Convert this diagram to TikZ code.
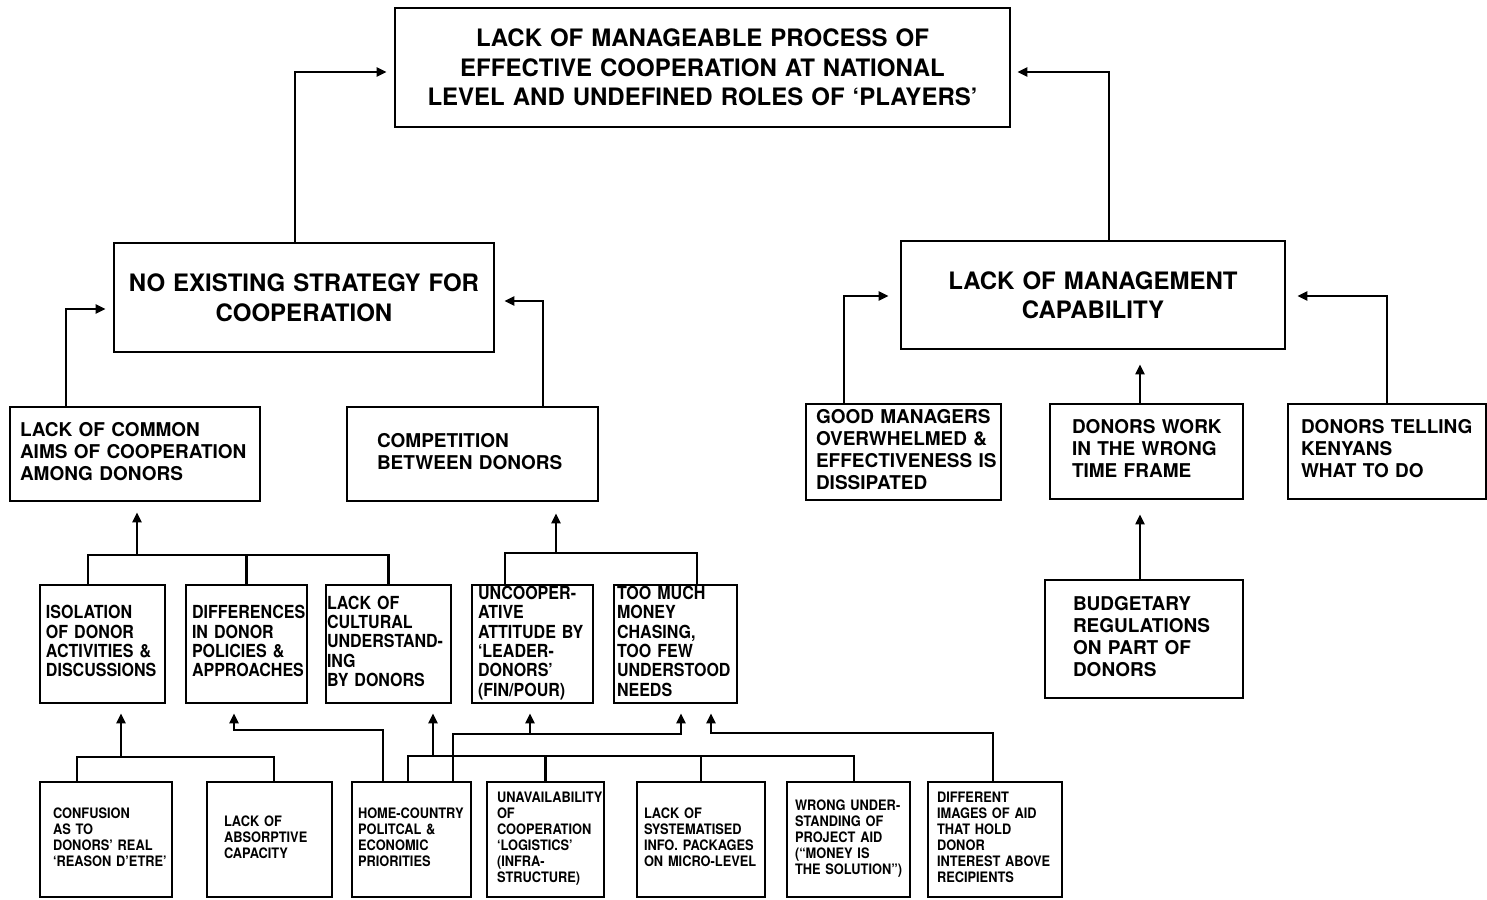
\documentclass[tikz,border=0pt]{standalone}
\usepackage{fontspec}
\setmainfont{TeX Gyre Heros}
\newfontfamily\cnd[FakeStretch=0.89,Ligatures=TeX]{TeX Gyre Heros}
\usetikzlibrary{arrows.meta}
\newcommand{\lns}[1]{\noindent\begin{tabular}{@{}l@{}}#1\end{tabular}}

\tikzset{
  box/.style={draw, rectangle, line width=1.4pt, inner ysep=0pt},
  headbox/.style={box, align=center, inner xsep=5pt, font=\bfseries\fontsize{12}{14.75}\selectfont},
  causebox/.style={box, font=\bfseries\fontsize{9.5}{11}\selectfont},
  subbox/.style={box, font=\cnd\bfseries\fontsize{9}{9.7}\selectfont},
  rootbox/.style={box, font=\cnd\bfseries\fontsize{7.2}{8}\selectfont},
  link/.style={line width=1.1pt},
  arr/.style={link, -{Triangle[length=5pt,width=4.5pt]}},
}

\begin{document}
\begin{tikzpicture}[x=0.5pt,y=-0.5pt]
    \useasboundingbox (0,0) rectangle (1487,899);

    % top problem
    \node[headbox, minimum width=307.5pt, minimum height=59.5pt, text width=297.5pt] (top) at (702.5,67.5)
        {LACK OF MANAGEABLE PROCESS OF\\EFFECTIVE COOPERATION AT NATIONAL\\LEVEL AND UNDEFINED ROLES OF `PLAYERS'};

    % second level
    \node[headbox, minimum width=190pt, minimum height=54.5pt, text width=180pt] (strat) at (304,297.5)
        {NO EXISTING STRATEGY FOR\\COOPERATION};
    \node[headbox, minimum width=192pt, minimum height=54pt, text width=182pt] (mgmt) at (1093,295)
        {LACK OF MANAGEMENT\\CAPABILITY};

    % third level
    \node[causebox, minimum width=125pt, minimum height=47pt, inner xsep=5pt, text width=115pt] (aims) at (135,454)
        {\lns{LACK OF COMMON\\AIMS OF COOPERATION\\AMONG DONORS}};
    \node[causebox, minimum width=125.5pt, minimum height=47pt, inner xsep=15pt, text width=95.5pt] (comp) at (472.5,454)
        {\lns{COMPETITION\\BETWEEN DONORS}};
    \node[causebox, minimum width=97.5pt, minimum height=48pt, inner xsep=5pt, text width=87.5pt] (goodm) at (903.5,452)
        {\lns{GOOD MANAGERS\\OVERWHELMED \&\\EFFECTIVENESS IS\\DISSIPATED}};
    \node[causebox, minimum width=96.5pt, minimum height=47.5pt, inner xsep=11pt, text width=74.5pt] (timefr) at (1146.5,451.5)
        {\lns{DONORS WORK\\IN THE WRONG\\TIME FRAME}};
    \node[causebox, minimum width=99pt, minimum height=47.5pt, inner xsep=6.5pt, text width=86pt] (telling) at (1387,451.5)
        {\lns{DONORS TELLING\\KENYANS\\WHAT TO DO}};
    \node[causebox, minimum width=99pt, minimum height=59pt, inner xsep=14pt, text width=71pt] (budget) at (1144,639)
        {\lns{BUDGETARY\\REGULATIONS\\ON PART OF\\DONORS}};

    % fourth level
    \node[subbox, minimum width=62.5pt, minimum height=59pt, inner xsep=3pt, text width=56.5pt] (isol) at (102.5,644)
        {\lns{ISOLATION\\OF DONOR\\ACTIVITIES \&\\DISCUSSIONS}};
    \node[subbox, minimum width=60.5pt, minimum height=59pt, inner xsep=3pt, text width=54.5pt] (diff) at (246.5,644)
        {\lns{DIFFERENCES\\IN DONOR\\POLICIES \&\\APPROACHES}};
    \node[subbox, minimum width=62.5pt, minimum height=59pt, inner xsep=0.5pt, text width=61.5pt] (cult) at (388.5,644)
        {\lns{LACK OF\\CULTURAL\\UNDERSTAND-\\ING\\BY DONORS}};
    \node[subbox, minimum width=60.5pt, minimum height=59pt, inner xsep=3pt, text width=54.5pt] (uncoop) at (532.5,644)
        {\lns{UNCOOPER-\\ATIVE\\ATTITUDE BY\\`LEADER-\\DONORS'\\(FIN/POUR)}};
    \node[subbox, minimum width=61.5pt, minimum height=59pt, inner xsep=1.5pt, text width=58.5pt] (money) at (675.5,644)
        {\lns{TOO MUCH\\MONEY\\CHASING,\\TOO FEW\\UNDERSTOOD\\NEEDS}};

    % root causes
    \node[rootbox, minimum width=66pt, minimum height=57.5pt, inner xsep=6.5pt, text width=53pt] (confus) at (106,839.5)
        {\lns{CONFUSION\\AS TO\\DONORS' REAL\\`REASON D'ETRE'}};
    \node[rootbox, minimum width=62.5pt, minimum height=57.5pt, inner xsep=8.5pt, text width=45.5pt] (absorb) at (269.5,839.5)
        {\lns{LACK OF\\ABSORPTIVE\\CAPACITY}};
    \node[rootbox, minimum width=59.5pt, minimum height=57.5pt, inner xsep=3pt, text width=53.5pt] (home) at (411.5,839.5)
        {\lns{HOME-COUNTRY\\POLITCAL \&\\ECONOMIC\\PRIORITIES}};
    \node[rootbox, minimum width=58.5pt, minimum height=57.5pt, inner xsep=5pt, text width=48.5pt] (unavail) at (545.5,839.5)
        {\lns{UNAVAILABILITY\\OF\\COOPERATION\\`LOGISTICS'\\(INFRA-\\STRUCTURE)}};
    \node[rootbox, minimum width=64pt, minimum height=57.5pt, inner xsep=3.5pt, text width=57pt] (systm) at (701,839.5)
        {\lns{LACK OF\\SYSTEMATISED\\INFO. PACKAGES\\ON MICRO-LEVEL}};
    \node[rootbox, minimum width=61.5pt, minimum height=57.5pt, inner xsep=4pt, text width=53.5pt] (wrongund) at (848.5,839.5)
        {\lns{WRONG UNDER-\\STANDING OF\\PROJECT AID\\(``MONEY IS\\THE SOLUTION'')}};
    \node[rootbox, minimum width=67pt, minimum height=57.5pt, inner xsep=4.5pt, text width=58pt] (diffimg) at (995,839.5)
        {\lns{DIFFERENT\\IMAGES OF AID\\THAT HOLD\\DONOR\\INTEREST ABOVE\\RECIPIENTS}};

    % upper connectors
    \draw[arr, shorten >=3.5pt] ([xshift=-4.5pt]strat.north) |- ([yshift=-2.25pt]top.west); % strat -> top
    \draw[arr, shorten >=3pt] ([xshift=8pt]mgmt.north) |- ([yshift=-2.25pt]top.east); % mgmt -> top
    \draw[arr, shorten >=3.5pt] ([xshift=-34.5pt]aims.north) |- ([yshift=-5.75pt]strat.west); % aims -> strat
    \draw[arr, shorten >=4.5pt] ([xshift=35.25pt]comp.north) |- ([yshift=-1.75pt]strat.east); % comp -> strat
    \draw[arr, shorten >=5.5pt] ([xshift=-29.75pt]goodm.north) |- ([yshift=-0.5pt]mgmt.west); % goodm -> mgmt
    \draw[arr, shorten >=5.5pt] (telling.north) |- ([yshift=-0.5pt]mgmt.east); % telling -> mgmt
    \draw[arr, shorten >=7pt] ([xshift=-3.25pt]timefr.north) -- ([xshift=-3.25pt]timefr.north |- mgmt.south); % timefr -> mgmt
    \draw[arr, shorten >=7pt] ([xshift=-2pt]budget.north) -- ([xshift=-2pt]budget.north |- timefr.south); % budget -> timefr

    % fourth level -> third level
    \coordinate (aimsbus) at (137,555);
    \draw[link] ([xshift=-7.25pt]isol.north) |- (aimsbus) -| (cult.north);
    \draw[link] (diff.north) -- (diff.north |- aimsbus);
    \draw[arr, shorten >=5pt] (aimsbus) -- (aimsbus |- aims.south);
    \coordinate (compbus) at (556,553);
    \draw[link] ([xshift=-13.75pt]uncoop.north) |- (compbus) -| ([xshift=10.75pt]money.north);
    \draw[arr, shorten >=5.5pt] (compbus) -- (compbus |- comp.south);

    % root causes -> fourth level
    \coordinate (isolbus) at (121,757);
    \draw[link] ([xshift=-14.5pt]confus.north) |- (isolbus) -| ([xshift=2.25pt]absorb.north);
    \draw[arr, shorten >=4.5pt] (isolbus) -- (isolbus |- isol.south);
    \coordinate (diffturn) at (234,730);
    \draw[arr, shorten >=4.5pt] ([xshift=-14.25pt]home.north) |- (diffturn) -- (diffturn |- diff.south); % home -> diff
    \coordinate (cultbus) at (433,756);
    \draw[link] ([xshift=-1.75pt]home.north) |- (cultbus) -| ([xshift=2.75pt]wrongund.north);
    \draw[link] (unavail.north) -- (unavail.north |- cultbus);
    \draw[link] (systm.north) -- (systm.north |- cultbus);
    \draw[arr, shorten >=4.5pt] (cultbus) -- (cultbus |- cult.south);
    \coordinate (uncbus) at (530,734);
    \coordinate (monbus) at (681,734);
    \draw[arr, shorten >=4.5pt] ([xshift=20.75pt]home.north) |- (monbus) -- (monbus |- money.south); % home -> money
    \draw[arr, shorten >=4.5pt] (uncbus) -- (uncbus |- uncoop.south);
    \coordinate (monturn) at (711,733);
    \draw[arr, shorten >=4.5pt] ([xshift=-1pt]diffimg.north) |- (monturn) -- (monturn |- money.south); % diffimg -> money

\end{tikzpicture}
\end{document}
